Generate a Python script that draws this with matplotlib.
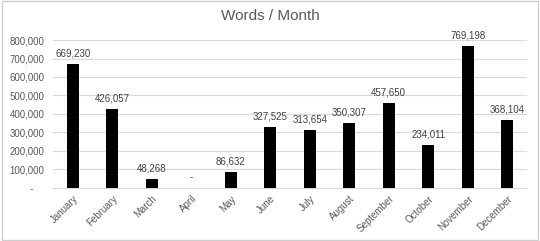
#!/usr/bin/env python3
"""Words written per month, as a simple black bar chart."""

import matplotlib

matplotlib.use("Agg")

import matplotlib.pyplot as plt
from matplotlib.patches import Rectangle
from matplotlib.ticker import FuncFormatter

MONTHS = [
    "January", "February", "March", "April", "May", "June",
    "July", "August", "September", "October", "November", "December",
]
WORDS = [
    669230, 426057, 48268, 0, 86632, 327525,
    313654, 350307, 457650, 234011, 769198, 368104,
]
Y_TICKS = [0, 100000, 200000, 300000, 400000, 500000, 600000, 700000, 800000]

TEXT_GREY = "#595959"
GRID_GREY = "#d9d9d9"


def fmt(value, _pos=None):
    """Accounting-style number: thousands separators, zero shown as a dash."""
    return "-" if value == 0 else f"{value:,.0f}"


def fmt_axis(value, _pos=None):
    # the dash sits a little left of the digits' right edge, as in accounting format
    return "-    " if value == 0 else f"{value:,.0f}"


def main():
    plt.rcParams["font.family"] = ["Liberation Sans", "DejaVu Sans"]

    fig = plt.figure(figsize=(5.4, 2.41), dpi=100)
    fig.patches.append(
        Rectangle((0.003, 0.005), 0.994, 0.99, transform=fig.transFigure,
                  fill=False, edgecolor="#cfcfcf", linewidth=1.0)
    )
    ax = fig.add_axes([0.098, 0.22, 0.878, 0.614])

    x = range(len(MONTHS))
    bars = ax.bar(x, WORDS, width=0.3, color="black", zorder=3)

    for bar, value in zip(bars, WORDS):
        ax.annotate(fmt(value), (bar.get_x() + bar.get_width() / 2, value),
                    xytext=(0, 4), textcoords="offset points",
                    ha="center", va="bottom", fontsize=7, color="#404040")

    ax.set_xlim(-0.5, len(MONTHS) - 0.5)
    ax.set_ylim(0, 800000)
    ax.set_yticks(Y_TICKS)
    ax.yaxis.set_major_formatter(FuncFormatter(fmt_axis))
    ax.set_xticks(list(x))
    ax.set_xticklabels(MONTHS, rotation=45, ha="right", rotation_mode="anchor")

    ax.tick_params(axis="both", length=0, labelsize=7, colors=TEXT_GREY)
    ax.tick_params(axis="y", pad=6)
    ax.tick_params(axis="x", pad=4)
    ax.grid(axis="y", color=GRID_GREY, linewidth=0.8, zorder=0)
    for side in ("top", "right", "left"):
        ax.spines[side].set_visible(False)
    ax.spines["bottom"].set_color(GRID_GREY)

    fig.text(0.5, 0.935, "Words / Month", ha="center", va="center",
             fontsize=11, color=TEXT_GREY)

    fig.savefig("out.png", dpi=100)
    plt.close(fig)


if __name__ == "__main__":
    main()
